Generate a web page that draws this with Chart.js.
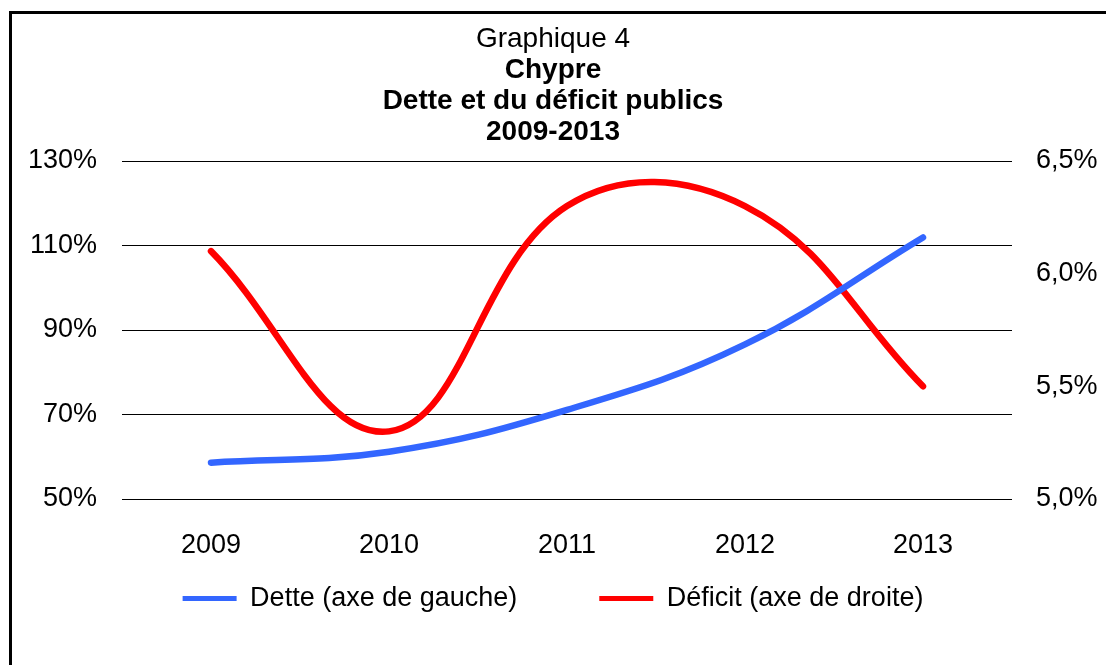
<!DOCTYPE html>
<html lang="fr">
<head>
<meta charset="utf-8">
<title>Graphique 4 - Chypre</title>
<script src="https://cdn.jsdelivr.net/npm/chart.js@4/dist/chart.umd.min.js"></script>
<style>
    html, body { margin: 0; padding: 0; background: #fff; overflow: hidden; }
    #wrap { position: relative; width: 1106px; height: 665px; }
    #frame {
        position: absolute; left: 9px; top: 11px; width: 1200px; height: 800px;
        border-left: 3px solid #000; border-top: 3px solid #000; pointer-events: none;
    }
</style>
</head>
<body>
<div id="wrap">
    <canvas id="chart"></canvas>
    <div id="frame"></div>
</div>
<script>
// --- Data ---
const years = ['2009', '2010', '2011', '2012', '2013'];
const dette = [58.6, 61.2, 71.1, 86.6, 111.9];   // % du PIB, axe de gauche
const deficit = [6.1, 5.3, 6.3, 6.3, 5.5];       // % du PIB, axe de droite

const titleText = 'Graphique 4';
const subtitleLines = ['Chypre', 'Dette et du déficit publics', '2009-2013'];
const seriesLabels = ['Dette (axe de gauche)', 'Déficit (axe de droite)'];

const FONT = 'Liberation Sans, Arial, sans-serif';

new Chart(document.getElementById('chart'), {
    type: 'line',
    data: {
        labels: years,
        datasets: [
            {
                label: seriesLabels[0],
                data: dette,
                yAxisID: 'y',
                borderColor: '#3366FF',
                backgroundColor: '#3366FF',
                borderWidth: 6.5,
                borderCapStyle: 'round',
                tension: 0.4,
                pointRadius: 0
            },
            {
                label: seriesLabels[1],
                data: deficit,
                yAxisID: 'y1',
                borderColor: '#FF0000',
                backgroundColor: '#FF0000',
                borderWidth: 6.5,
                borderCapStyle: 'round',
                tension: 0.4,
                pointRadius: 0
            }
        ]
    },
    options: {
        responsive: true,
        maintainAspectRatio: false,
        animation: false,
        layout: { padding: { top: 24, left: 0, right: 0, bottom: 43 } },
        plugins: {
            title: {
                display: true,
                text: titleText,
                color: '#000',
                font: { family: FONT, size: 28, weight: 'normal', lineHeight: '31px' },
                padding: { top: 0, bottom: 0 }
            },
            subtitle: {
                display: true,
                text: subtitleLines,
                color: '#000',
                font: { family: FONT, size: 28, weight: 'bold', lineHeight: '31px' },
                padding: { top: 0, bottom: 13 }
            },
            legend: {
                position: 'bottom',
                labels: {
                    color: '#000',
                    font: { family: FONT, size: 27 },
                    boxWidth: 54,
                    boxHeight: 5,
                    padding: 82,
                    generateLabels: (chart) => {
                        const items = Chart.defaults.plugins.legend.labels.generateLabels(chart);
                        items.forEach(it => { it.lineWidth = 0; });
                        return items;
                    }
                }
            },
            tooltip: { enabled: false }
        },
        scales: {
            x: {
                offset: true,
                grid: { display: false, drawTicks: false },
                border: { display: false },
                // mirror keeps the year labels unclipped while the axis box stays thin
                ticks: { color: '#000', font: { family: FONT, size: 27 }, mirror: true, padding: -63 },
                afterFit: (scale) => { scale.height = 4; }
            },
            y: {
                position: 'left',
                min: 50,
                max: 130,
                ticks: {
                    stepSize: 20,
                    color: '#000',
                    font: { family: FONT, size: 27 },
                    padding: 25,
                    callback: (v) => v + '%'
                },
                grid: { color: '#000', lineWidth: 1, drawTicks: false },
                border: { display: false },
                afterFit: (scale) => { scale.width = 122; }
            },
            y1: {
                position: 'right',
                min: 5,
                max: 6.5,
                ticks: {
                    stepSize: 0.5,
                    color: '#000',
                    font: { family: FONT, size: 27 },
                    padding: 24,
                    callback: (v) => v.toFixed(1).replace('.', ',') + '%'
                },
                grid: { display: false, drawTicks: false },
                border: { display: false },
                afterFit: (scale) => { scale.width = 94; }
            }
        }
    }
});
</script>
</body>
</html>
